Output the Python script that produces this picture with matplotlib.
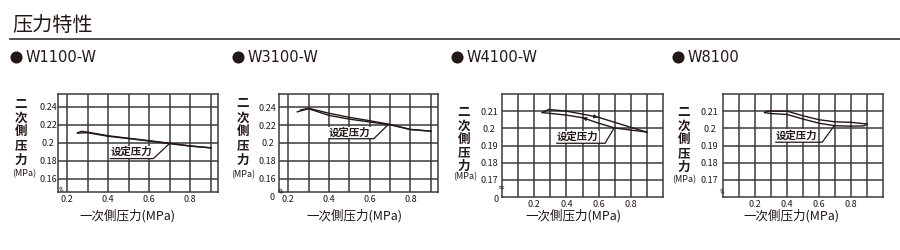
import numpy as np
import matplotlib.pyplot as plt
from matplotlib.lines import Line2D

plt.rcParams['font.family'] = ['Noto Sans CJK SC', 'DejaVu Sans']

# Models
models = ['W1100-W', 'W3100-W', 'W4100-W', 'W8100']

# Primary pressure (MPa) / secondary pressure (MPa), rising and falling branches
w1100_up_x = [0.25, 0.30, 0.40, 0.50, 0.60, 0.70, 0.80, 0.90]
w1100_up_y = [0.2108, 0.2112, 0.2072, 0.2046, 0.2019, 0.1990, 0.1962, 0.1943]
w1100_dn_x = [0.90, 0.80, 0.70, 0.60, 0.50, 0.40, 0.30, 0.27, 0.25]
w1100_dn_y = [0.1943, 0.1965, 0.1994, 0.2023, 0.2050, 0.2078, 0.2118, 0.2128, 0.2110]

w3100_up_x = [0.245, 0.30, 0.40, 0.50, 0.60, 0.70, 0.80, 0.90]
w3100_up_y = [0.2350, 0.2385, 0.2310, 0.2268, 0.2236, 0.2205, 0.2150, 0.2133]
w3100_dn_x = [0.90, 0.80, 0.70, 0.60, 0.50, 0.40, 0.30, 0.26]
w3100_dn_y = [0.2133, 0.2153, 0.2208, 0.2250, 0.2288, 0.2334, 0.2390, 0.2370]

w4100_up_x = [0.25, 0.29, 0.40, 0.50, 0.60, 0.70, 0.80, 0.90]
w4100_up_y = [0.2092, 0.2110, 0.2100, 0.2083, 0.2064, 0.2035, 0.2006, 0.1978]
w4100_dn_x = [0.90, 0.80, 0.70, 0.60, 0.50, 0.40, 0.30, 0.25]
w4100_dn_y = [0.1978, 0.1990, 0.2002, 0.2030, 0.2062, 0.2077, 0.2087, 0.2092]

w8100_up_x = [0.26, 0.28, 0.40, 0.50, 0.60, 0.70, 0.80, 0.90]
w8100_up_y = [0.2092, 0.2100, 0.2100, 0.2073, 0.2050, 0.2038, 0.2035, 0.2025]
w8100_dn_x = [0.90, 0.88, 0.80, 0.70, 0.60, 0.50, 0.40, 0.30, 0.26]
w8100_dn_y = [0.2025, 0.2014, 0.2013, 0.2015, 0.2030, 0.2054, 0.2081, 0.2086, 0.2092]

# Set pressure point (where the leader line ends)
set_x = [0.70, 0.69, 0.695, 0.695]
set_y = [0.1995, 0.2205, 0.2000, 0.2015]

# Axis ticks
xgrid_a = [0.2, 0.3, 0.4, 0.5, 0.6, 0.7, 0.8, 0.9]
xgrid_b = [0.1, 0.2, 0.3, 0.4, 0.5, 0.6, 0.7, 0.8, 0.9]
xlabels = {0.2: '0.2', 0.4: '0.4', 0.6: '0.6', 0.8: '0.8'}
yticks_a = [0.16, 0.18, 0.20, 0.22, 0.24]
ylabels_a = ['0.16', '0.18', '0.2', '0.22', '0.24']
yticks_b = [0.17, 0.18, 0.19, 0.20, 0.21]
ylabels_b = ['0.17', '0.18', '0.19', '0.2', '0.21']

ink = '#231815'
gridc = '#3a3a3a'

W, H = 900, 250
def fx(px):
    return px / W
def fy(py):
    return 1 - py / H

fig = plt.figure(figsize=(9, 2.5), dpi=100)

# Title and rule
fig.text(fx(12), fy(25), '压力特性', fontsize=14.5, color=ink, va='center', ha='left')
fig.add_artist(Line2D([fx(10), 1], [fy(39), fy(39)], color='#333333', lw=1.2))

# Model headers
bullet_x = [16, 238, 457, 678]
for name, bx in zip(models, bullet_x):
    fig.add_artist(Line2D([fx(bx)], [fy(57)], marker='o', ms=7.7, color=ink, lw=0))
    fig.text(fx(bx + 10), fy(57), name, fontsize=10.5, color=ink, va='center', ha='left',
             family='DejaVu Sans')

# axes rectangles in pixels: left, top, right, bottom
rects = [(58, 93.5, 218, 192), (279, 94, 438, 192), (502, 94, 663, 197), (723, 94, 883, 197)]
ups = [(w1100_up_x, w1100_up_y), (w3100_up_x, w3100_up_y),
       (w4100_up_x, w4100_up_y), (w8100_up_x, w8100_up_y)]
dns = [(w1100_dn_x, w1100_dn_y), (w3100_dn_x, w3100_dn_y),
       (w4100_dn_x, w4100_dn_y), (w8100_dn_x, w8100_dn_y)]
# label text left x, text y, underline y, underline end x
notes = [(0.41, 0.1900, 0.1823, 0.62), (0.40, 0.2116, 0.2048, 0.62),
         (0.34, 0.1951, 0.1913, 0.64), (0.33, 0.1958, 0.1919, 0.62)]
ypads = [7.2, 8.3, 9.4, 9.6]
xlab_cx = [127.5, 354, 573.5, 791]
ystack = [(21, [105, 118.5, 132, 146, 160], 24, 173.5),
          (243, [104, 118, 132, 146, 160], 243, 175),
          (464, [113, 126.5, 140, 153, 166], 465, 176.5),
          (684, [113, 126.5, 140, 153.5, 167], 684, 180)]
breaks = [(60, 188, -60), (280, 190, -60), (501, 186.5, 0), (721.5, 190, -60)]

for i in range(4):
    l, t, r, b = rects[i]
    ax = fig.add_axes([fx(l), fy(b), (r - l) / W, (b - t) / H])
    if i < 2:
        ax.set_xlim(0.155, 0.935)
        ax.set_ylim(0.145, 0.255)
        xg = xgrid_a
        ax.set_yticks(yticks_a)
        ax.set_yticklabels(ylabels_a)
    else:
        ax.set_xlim(0, 1.0)
        ax.set_ylim(0.16, 0.22)
        xg = xgrid_b
        ax.set_yticks(yticks_b)
        ax.set_yticklabels(ylabels_b)
    ax.set_xticks(xg)
    ax.set_xticklabels([xlabels.get(round(v, 1), '') for v in xg])
    ax.grid(True, color=gridc, lw=1.1)
    ax.set_axisbelow(True)
    for s in ax.spines.values():
        s.set_color(gridc)
        s.set_linewidth(1.1)
    ax.tick_params(length=0, labelsize=6.5, labelcolor=ink)
    ax.tick_params(axis='x', pad=2.5)
    ax.tick_params(axis='y', pad=ypads[i])
    for lab in ax.get_yticklabels():
        lab.set_ha('center')

    ux, uy = ups[i]
    dx, dy = dns[i]
    ax.plot(ux, uy, color=ink, lw=1.0, zorder=3)
    ax.plot(dx, dy, color=ink, lw=1.0, zorder=3)

    if i == 2:
        # direction arrows on the hysteresis loop
        xa = 0.575
        ya = np.interp(xa, ux, uy)
        ax.annotate('', xy=(xa + 0.02, np.interp(xa + 0.02, ux, uy)), xytext=(xa, ya),
                    arrowprops=dict(arrowstyle='-|>', mutation_scale=6, lw=0.6, color=ink))
        xb = 0.52
        yb = np.interp(xb, dx[::-1], dy[::-1])
        ax.annotate('', xy=(xb - 0.02, np.interp(xb - 0.02, dx[::-1], dy[::-1])), xytext=(xb, yb),
                    arrowprops=dict(arrowstyle='-|>', mutation_scale=6, lw=0.6, color=ink))

    tx, ty, uly, ulx = notes[i]
    ax.plot([tx, ulx, set_x[i]], [uly, uly, set_y[i]], color=ink, lw=0.9, zorder=5)
    ax.text(tx, ty, '设定压力', fontsize=7.5, fontweight='bold', color=ink, ha='left', va='center',
            zorder=4, bbox=dict(fc='white', ec='none', pad=0.6))

    # stacked y label
    cx, ys, mx, my = ystack[i]
    for ch, yy in zip('二次側压力', ys):
        fig.text(fx(cx), fy(yy), ch, fontsize=9, fontweight='bold', color=ink, ha='center', va='center')
    fig.text(fx(mx), fy(my), '(MPa)', fontsize=6.5, color=ink, ha='center', va='center')

    # x label
    fig.text(fx(xlab_cx[i]), fy(216), '一次側压力(MPa)', fontsize=9, color=ink, ha='center', va='center')

    # axis break mark
    bx, by, rot = breaks[i]
    fig.text(fx(bx), fy(by), '≈', fontsize=6, color=ink, ha='center', va='center', rotation=rot,
             family='DejaVu Sans')

# zero labels
fig.text(fx(272.5), fy(197), '0', fontsize=6.5, color=ink, ha='center', va='center')
fig.text(fx(496), fy(199.5), '0', fontsize=6.5, color=ink, ha='center', va='center')

fig.savefig('out.png', dpi=100)
